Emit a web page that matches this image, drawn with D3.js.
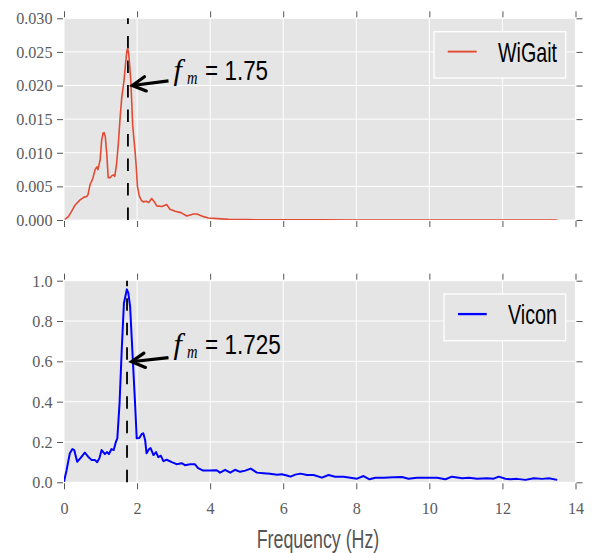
<!DOCTYPE html>
<html><head><meta charset="utf-8">
<script src="https://cdn.jsdelivr.net/npm/d3@7"></script>
<style>
html,body{margin:0;padding:0;background:#fff;}
svg{display:block;}
.serif{font-family:"Liberation Serif","DejaVu Serif","Noto Serif",serif;}
</style></head>
<body>
<svg id="chart" width="592" height="553"></svg>
<script>
// ---------------- DATA ----------------
const xTicks = [0, 2, 4, 6, 8, 10, 12, 14];
const topYTicks = [0, 0.005, 0.010, 0.015, 0.020, 0.025, 0.030];
const botYTicks = [0, 0.2, 0.4, 0.6, 0.8, 1.0];

const wigaitLabel = "WiGait";
const viconLabel = "Vicon";
const wigaitPeak = 1.75;
const viconPeak = 1.725;
const xAxisLabel = "Frequency (Hz)";

const wigaitFreq = [0.02,0.05,0.12,0.2,0.3,0.44,0.55,0.62,0.66,0.71,0.79,0.85,0.9,0.93,0.99,1.03,1.07,1.1,1.13,1.17,1.21,1.27,1.31,1.35,1.39,1.44,1.49,1.53,1.58,1.64,1.69,1.72,1.74,1.77,1.80,1.83,1.86,1.88,1.92,1.95,1.98,2.01,2.06,2.12,2.17,2.25,2.32,2.40,2.46,2.54,2.68,2.81,2.90,3.04,3.20,3.36,3.55,3.64,3.82,3.95,4.2,4.5,5.0,5.5,6,7,8,9,10,11,12,13,13.5];
const wigaitAmp  = [0.0001,0.0002,0.0005,0.0012,0.0022,0.003,0.0034,0.0035,0.0038,0.0052,0.0062,0.0075,0.0079,0.0075,0.009,0.0118,0.0129,0.013,0.0124,0.0099,0.0063,0.0063,0.0066,0.0067,0.0065,0.0084,0.0115,0.0148,0.0182,0.0206,0.0235,0.0251,0.0255,0.0248,0.0228,0.0206,0.0168,0.0141,0.0117,0.0099,0.0077,0.005,0.0036,0.0029,0.0027,0.0028,0.0026,0.0032,0.0028,0.0021,0.002,0.0023,0.0016,0.0013,0.0011,0.0006,0.0009,0.0009,0.0005,0.0003,0.0002,0.0001,0.00005,0.00003,0.00002,0.00002,0.00001,0.00001,0.00001,0.00001,0.00001,0.00001,0.00001];

const viconFreq = [0,0.07,0.16,0.23,0.28,0.36,0.45,0.57,0.66,0.76,0.85,0.91,0.97,1.03,1.12,1.18,1.23,1.30,1.36,1.42,1.46,1.52,1.58,1.64,1.72,1.76,1.81,1.87,1.94,1.99,2.06,2.13,2.17,2.22,2.26,2.33,2.37,2.45,2.52,2.58,2.65,2.72,2.81,2.95,3.08,3.22,3.31,3.45,3.58,3.67,3.81,3.99,4.18,4.27,4.41,4.55,4.68,4.82,4.96,5.11,5.28,5.46,5.64,5.83,5.96,6.1,6.2,6.33,6.47,6.65,6.83,7.06,7.24,7.42,7.65,7.84,8.02,8.2,8.36,8.52,8.75,9.02,9.25,9.43,9.66,9.94,10.21,10.44,10.62,10.9,11.08,11.31,11.58,11.76,11.9,12.08,12.22,12.4,12.63,12.86,13.09,13.27,13.5];
const viconAmp  = [0.003,0.06,0.144,0.165,0.16,0.102,0.12,0.147,0.127,0.11,0.11,0.1,0.12,0.16,0.14,0.15,0.14,0.165,0.16,0.2,0.218,0.39,0.656,0.888,0.957,0.94,0.87,0.656,0.41,0.218,0.22,0.24,0.243,0.21,0.144,0.165,0.17,0.135,0.15,0.125,0.132,0.105,0.112,0.1,0.09,0.095,0.085,0.09,0.09,0.07,0.058,0.058,0.06,0.048,0.062,0.048,0.062,0.052,0.058,0.068,0.048,0.045,0.042,0.038,0.04,0.034,0.028,0.038,0.043,0.036,0.036,0.023,0.036,0.028,0.028,0.023,0.018,0.031,0.015,0.023,0.023,0.025,0.026,0.018,0.023,0.023,0.023,0.015,0.028,0.02,0.023,0.018,0.02,0.018,0.028,0.018,0.015,0.017,0.012,0.02,0.017,0.02,0.012];

// ---------------- LAYOUT ----------------
const svg = d3.select("#chart");
const X0 = 64, X1 = 575.5;
const panels = [
  {top: 18.3, bottom: 220, domain: [0, 0.03], ticks: topYTicks, fmt: d3.format(".3f"),
   freq: wigaitFreq, amp: wigaitAmp, color: "#E24A33", width: 1.6, peak: wigaitPeak,
   label: wigaitLabel, xLabels: false,
   legend: {x: 434, y: 31.7, w: 131.7, h: 46.3, lx1: 447.7, lx2: 476.7, tx: 498, tw: 59},
   ann: {tip: [1.87, 0.0200], tail: [2.86, 0.0207], tx: 3.0, ty: 0.0208, text: "= 1.75", tw: 63}},
  {top: 280.7, bottom: 482.3, domain: [0, 1], ticks: botYTicks, fmt: d3.format(".1f"),
   freq: viconFreq, amp: viconAmp, color: "#0000FF", width: 2, peak: viconPeak,
   label: viconLabel, xLabels: true,
   legend: {x: 444, y: 294, w: 121.7, h: 46.7, lx1: 458, lx2: 486.7, tx: 508, tw: 49},
   ann: {tip: [1.85, 0.598], tail: [2.86, 0.618], tx: 3.0, ty: 0.636, text: "= 1.725", tw: 75.7}}
];

const x = d3.scaleLinear().domain([0, 14]).range([X0, X1]);
const tickColor = "#555";
const sans = "'Liberation Sans', Arial, Helvetica, sans-serif";

function squeeze(sel, k) {
  sel.each(function () {
    const w = this.getComputedTextLength();
    d3.select(this).attr("textLength", w * k).attr("lengthAdjust", "spacingAndGlyphs");
  });
}
function fitWidth(sel, w) {
  sel.attr("textLength", w).attr("lengthAdjust", "spacingAndGlyphs");
}

panels.forEach((p, i) => {
  const y = d3.scaleLinear().domain(p.domain).range([p.bottom, p.top]);
  const g = svg.append("g");

  // background
  g.append("rect").attr("x", X0).attr("y", p.top)
    .attr("width", X1 - X0).attr("height", p.bottom - p.top).attr("fill", "#E5E5E5");

  // grid
  g.append("g").selectAll("line").data(xTicks).join("line")
    .attr("x1", d => x(d)).attr("x2", d => x(d)).attr("y1", p.top).attr("y2", p.bottom)
    .attr("stroke", "#fff").attr("stroke-width", 1);
  g.append("g").selectAll("line").data(p.ticks).join("line")
    .attr("y1", d => y(d)).attr("y2", d => y(d)).attr("x1", X0).attr("x2", X1)
    .attr("stroke", "#fff").attr("stroke-width", 1);

  // axes
  const left = g.append("g").attr("transform", `translate(${X0 - 1},0)`)
    .call(d3.axisLeft(y).tickValues(p.ticks).tickFormat(p.fmt).tickSize(6).tickPadding(4.5));
  const right = g.append("g").attr("transform", `translate(${X1 + 1},0)`)
    .call(d3.axisRight(y).tickValues(p.ticks).tickFormat("").tickSize(6));
  const topAx = g.append("g").attr("transform", `translate(0,${p.top - 1})`)
    .call(d3.axisTop(x).tickValues(xTicks).tickFormat("").tickSize(6));
  const botAx = g.append("g").attr("transform", `translate(0,${p.bottom + 1})`)
    .call(d3.axisBottom(x).tickValues(xTicks).tickFormat(p.xLabels ? d3.format("d") : "").tickSize(6).tickPadding(13));
  [left, right, topAx, botAx].forEach(a => {
    a.attr("font-family", null).attr("font-size", null);
    a.select(".domain").remove();
    a.selectAll(".tick line").attr("stroke", tickColor).attr("stroke-width", 1);
    a.selectAll(".tick text").attr("class", "serif").attr("fill", "#5c5c5c").style("font-size", "17px");
  });
  squeeze(left.selectAll(".tick text"), 0.95);
  squeeze(botAx.selectAll(".tick text"), 0.95);

  // clip
  const clipId = "clip" + i;
  svg.append("clipPath").attr("id", clipId).append("rect")
    .attr("x", X0).attr("y", p.top).attr("width", X1 - X0).attr("height", p.bottom - p.top);

  // dashed peak line (from bottom upwards)
  g.append("line").attr("x1", x(p.peak)).attr("x2", x(p.peak))
    .attr("y1", p.bottom).attr("y2", p.top)
    .attr("stroke", "#000").attr("stroke-width", 1.8).attr("stroke-dasharray", "12.5,12");

  // series line
  const pts = p.freq.map((f, k) => [f, p.amp[k]]);
  g.append("path").datum(pts).attr("clip-path", `url(#${clipId})`)
    .attr("fill", "none").attr("stroke", p.color).attr("stroke-width", p.width)
    .attr("stroke-linejoin", "round")
    .attr("d", d3.line().x(d => x(d[0])).y(d => y(d[1])));

  // legend
  const L = p.legend;
  g.append("rect").attr("x", L.x).attr("y", L.y).attr("width", L.w).attr("height", L.h)
    .attr("fill", "#E5E5E5").attr("stroke", "#fff").attr("stroke-width", 1.3);
  const ly = L.y + L.h * 0.43;
  g.append("line").attr("x1", L.lx1).attr("x2", L.lx2).attr("y1", ly).attr("y2", ly)
    .attr("stroke", p.color).attr("stroke-width", p.width + 0.3);
  g.append("text").attr("x", L.tx).attr("y", ly + 10.2).text(p.label)
    .style("font-family", sans).style("font-size", "27.5px").attr("fill", "#000")
    .call(fitWidth, L.tw);

  // annotation arrow
  const A = p.ann;
  const tip = [x(A.tip[0]), y(A.tip[1])];
  const tail = [x(A.tail[0]), y(A.tail[1])];
  const ang = Math.atan2(tail[1] - tip[1], tail[0] - tip[0]);
  const hl = 15, ha = 0.5;
  const h1 = [tip[0] + hl * Math.cos(ang + ha), tip[1] + hl * Math.sin(ang + ha)];
  const h2 = [tip[0] + hl * Math.cos(ang - ha), tip[1] + hl * Math.sin(ang - ha)];
  g.append("path").attr("d", `M${tail[0]},${tail[1]}L${tip[0] + 2 * Math.cos(ang)},${tip[1] + 2 * Math.sin(ang)}`)
    .attr("stroke", "#000").attr("stroke-width", 3.2).attr("fill", "none");
  g.append("path").attr("d", `M${h1[0]},${h1[1]}L${tip[0]},${tip[1]}L${h2[0]},${h2[1]}`)
    .attr("stroke", "#000").attr("stroke-width", 3.2).attr("fill", "none")
    .attr("stroke-linejoin", "miter").attr("stroke-linecap", "round");

  // annotation text
  const tx = x(A.tx), tyy = y(A.ty);
  g.append("text").attr("class", "serif").attr("x", tx).attr("y", tyy).text("f")
    .style("font-style", "italic").style("font-size", "30px").attr("fill", "#000");
  g.append("text").attr("class", "serif").attr("x", tx + 13.5).attr("y", tyy + 4).text("m")
    .style("font-style", "italic").style("font-size", "19px").attr("fill", "#000")
    .call(fitWidth, 10.5);
  g.append("text").attr("x", tx + 31.5).attr("y", tyy).text(A.text)
    .style("font-family", sans).style("font-size", "28px").attr("fill", "#000")
    .call(fitWidth, A.tw);
});

// x-axis label
svg.append("text").attr("x", 318).attr("y", 548).attr("text-anchor", "middle")
  .text(xAxisLabel).style("font-family", sans).style("font-size", "26px").attr("fill", "#555")
  .call(fitWidth, 122.6);
</script>
</body></html>
